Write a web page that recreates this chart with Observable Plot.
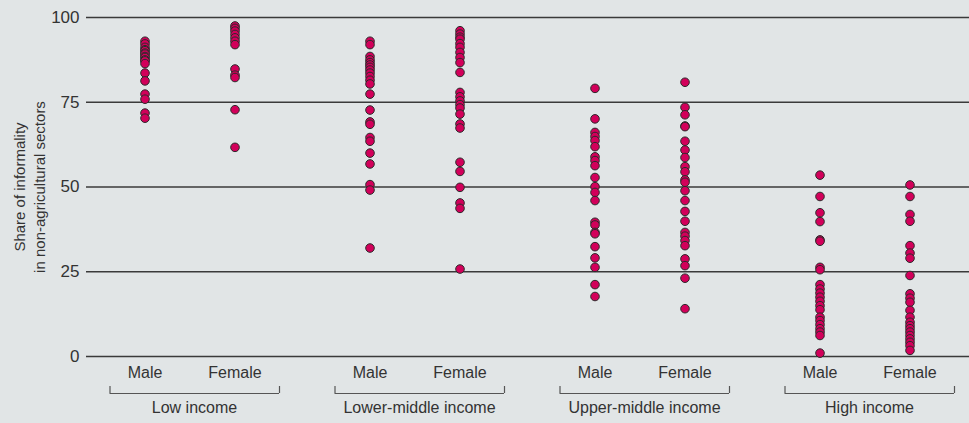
<!DOCTYPE html>
<html>
<head>
<meta charset="utf-8">
<script src="https://cdn.jsdelivr.net/npm/d3@7"></script>
<script src="https://cdn.jsdelivr.net/npm/@observablehq/plot@0.6"></script>
<style>
  html, body { margin: 0; padding: 0; background: #e1e5e6; overflow: hidden; }
  #chart svg g[aria-label="y-axis tick label"] text, #chart svg g[aria-label="y-axis"] text { font-size: 17px; }
</style>
</head>
<body>
<div id="chart"></div>
<script>
// Categories
const groups = ["Low income", "Lower-middle income", "Upper-middle income", "High income"];
const sexes = ["Male", "Female"];
const yTicks = [0, 25, 50, 75, 100];
const yLabelLines = ["Share of informality", "in non-agricultural sectors"];

// Values (share of informality, %)
const lowMale = [93, 92.2, 91.2, 90.5, 90.2, 89.5, 89.2, 88.5, 88.2, 87.5, 87.2, 86.4, 83.6, 81.3, 77.4, 75.9, 71.8, 70.3];
const lowFemale = [97.5, 96.8, 96, 95, 94, 93, 92, 84.8, 83, 82.3, 72.8, 61.7];
const lmMale = [93, 92, 88.5, 87.5, 86.7, 86, 85.3, 84.5, 83.6, 82.6, 81.5, 80.4, 77.4, 72.7, 69.2, 68.5, 64.6, 63.5, 60, 56.8, 50.7, 49.1, 32];
const lmFemale = [96.1, 95.1, 94.2, 93.6, 92.3, 91.2, 89.7, 88.2, 86.7, 83.8, 77.9, 76.6, 75.4, 74.3, 73.3, 71.5, 68.6, 67.4, 57.3, 54.6, 49.9, 45.3, 43.7, 25.8];
const umMale = [79.1, 70.1, 66.1, 64.9, 63.7, 61.9, 58.9, 57.8, 56.3, 52.8, 50.1, 48.4, 46, 39.6, 38.8, 36.6, 36.2, 32.4, 29.1, 26.3, 21.2, 17.7];
const umFemale = [80.9, 73.5, 71.3, 68, 67.8, 63.5, 60.9, 58.7, 56, 54.5, 52.1, 51.4, 48.9, 46, 42.8, 39.9, 36.6, 35.5, 34.2, 32.7, 28.8, 26.8, 23.1, 14.1];
const hiMale = [53.5, 47.2, 42.4, 39.8, 34.4, 34, 26.3, 25.6, 21.2, 19.9, 18.7, 17.5, 16.3, 15, 13.8, 11.6, 10.6, 9.4, 8.2, 7.2, 6.2, 1.0];
const hiFemale = [50.6, 47.2, 41.9, 39.9, 32.7, 30.5, 29, 23.9, 18.5, 17.2, 16, 13.6, 11.6, 10.1, 9.1, 8.2, 7.2, 6.2, 5.2, 4.2, 3.2, 1.8];

const seriesList = [
  [groups[0], "Male", lowMale], [groups[0], "Female", lowFemale],
  [groups[1], "Male", lmMale], [groups[1], "Female", lmFemale],
  [groups[2], "Male", umMale], [groups[2], "Female", umFemale],
  [groups[3], "Male", hiMale], [groups[3], "Female", hiFemale]
];
const data = seriesList.flatMap(([group, sex, vals]) => vals.map(value => ({group, sex, value})));
const sexLabels = groups.flatMap(group => sexes.map(sex => ({group, sex})));

const ink = "#333";
const off = 45; // half-distance between Male and Female columns

const chart = Plot.plot({
  width: 969,
  height: 423,
  marginLeft: 86,
  marginRight: 0,
  marginTop: 17,
  marginBottom: 67,
  style: {
    background: "#e1e5e6",
    color: ink,
    fontFamily: "'Liberation Sans', Arial, sans-serif",
    fontSize: "16px",
    overflow: "visible"
  },
  x: {type: "band", domain: groups, range: [77, 977], padding: 0, axis: null},
  y: {domain: [0, 100], ticks: yTicks, tickSize: 0, tickPadding: 7, label: null},
  marks: [
    Plot.ruleY(yTicks, {stroke: "#3a3a3a", strokeWidth: 1.3}),
    Plot.dot(data.filter(d => d.sex === "Male"), {x: "group", y: "value", dx: -off, r: 4.3, fill: "#d2005a", stroke: "#2b2b2b", strokeWidth: 1}),
    Plot.dot(data.filter(d => d.sex === "Female"), {x: "group", y: "value", dx: off, r: 4.3, fill: "#d2005a", stroke: "#2b2b2b", strokeWidth: 1}),
    Plot.text(sexLabels.filter(d => d.sex === "Male"), {x: "group", text: "sex", frameAnchor: "bottom", dx: -off, dy: 21, fill: ink, fontSize: 16}),
    Plot.text(sexLabels.filter(d => d.sex === "Female"), {x: "group", text: "sex", frameAnchor: "bottom", dx: off, dy: 21, fill: ink, fontSize: 16}),
    Plot.text(groups, {x: d => d, text: d => d, frameAnchor: "bottom", dx: 4.5, dy: 56, fill: ink, fontSize: 16}),
    // brackets
    Plot.tickY(groups, {x: d => d, y: () => 0, dy: 37, insetLeft: 32.5, insetRight: 23, stroke: "#555", strokeWidth: 1.2}),
    Plot.ruleX(groups, {x: d => d, dx: -80, insetTop: 369, insetBottom: -37, stroke: "#555", strokeWidth: 1.2}),
    Plot.ruleX(groups, {x: d => d, dx: 89.5, insetTop: 369, insetBottom: -37, stroke: "#555", strokeWidth: 1.2}),
    // y label
    Plot.text([yLabelLines[0]], {text: d => d, frameAnchor: "left", textAnchor: "middle", dx: -66, rotate: -90, fill: ink, fontSize: 15}),
    Plot.text([yLabelLines[1]], {text: d => d, frameAnchor: "left", textAnchor: "middle", dx: -46, rotate: -90, fill: ink, fontSize: 15})
  ]
});
document.getElementById("chart").appendChild(chart);
</script>
</body>
</html>
